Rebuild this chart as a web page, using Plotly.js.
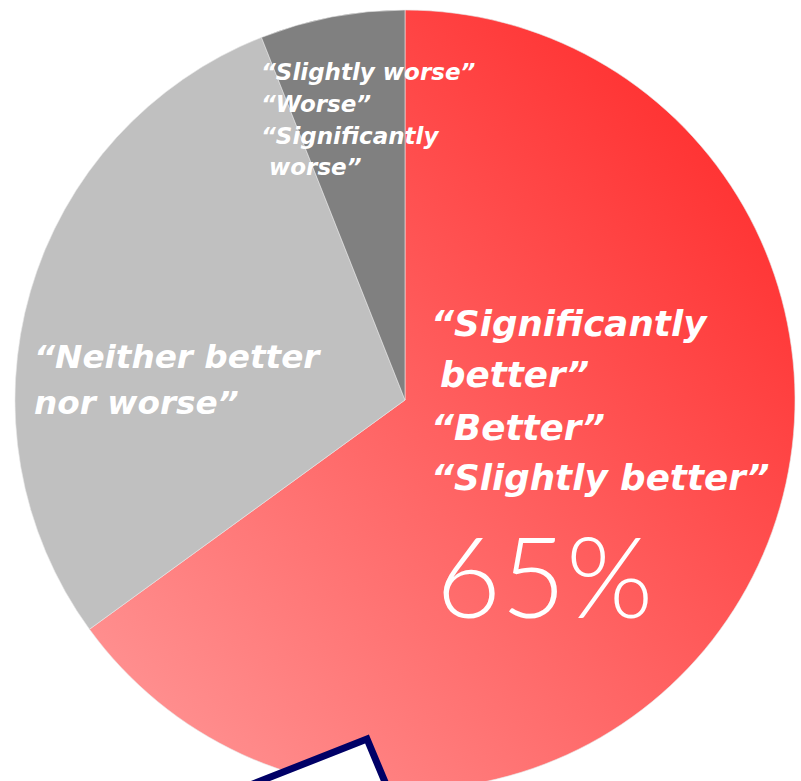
<!DOCTYPE html>
<html>
<head>
<meta charset="utf-8">
<script src="https://cdn.plot.ly/plotly-3.0.1.min.js"></script>
<style>
html,body{margin:0;padding:0;background:#fff;overflow:hidden;}
#chart{width:801px;height:820px;}
</style>
</head>
<body>
<div id="chart"></div>
<script>
// ---- data ----
var categories = ["Better (significantly / better / slightly)", "Neither better nor worse", "Worse (slightly / worse / significantly)"];
var shares = [65, 29, 6];
var sliceColors = ["#ff5a5a", "#c0c0c0", "#808080"];
var betterLines = ["\u201cSignificantly", "better\u201d", "\u201cBetter\u201d", "\u201cSlightly better\u201d"];
var neitherLines = ["\u201cNeither better", "nor worse\u201d"];
var worseLines = ["\u201cSlightly worse\u201d", "\u201cWorse\u201d", "\u201cSignificantly", "worse\u201d"];
var bigLabel = shares[0] + "%";

var W = 801, H = 820;
function px(x){ return x / W; }
function py(y){ return 1 - y / H; }

var trace = {
  type: "pie",
  labels: categories,
  values: shares,
  sort: false,
  direction: "clockwise",
  rotation: 0,
  textinfo: "none",
  hoverinfo: "none",
  showlegend: false,
  marker: { colors: sliceColors, line: { color: "#e8e8e8", width: 0.6 } },
  domain: { x: [px(15), px(795)], y: [py(790), py(10)] }
};

var lblFont = function(size){
  return { family: "DejaVu Sans, Verdana, sans-serif", size: size, color: "#ffffff", weight: "bold", style: "italic" };
};

var annotations = [];
var redX = [429, 438, 429, 429], redY = [323, 375, 427, 478];
betterLines.forEach(function(t, i){
  annotations.push({ text: t, xref: "paper", yref: "paper", x: px(redX[i]), y: py(redY[i]),
    xanchor: "left", yanchor: "middle", showarrow: false, font: lblFont(35.7) });
});
var nX = [32, 32], nY = [357, 403];
neitherLines.forEach(function(t, i){
  annotations.push({ text: t, xref: "paper", yref: "paper", x: px(nX[i]), y: py(nY[i]),
    xanchor: "left", yanchor: "middle", showarrow: false, font: lblFont(32.7) });
});
var wX = [259, 259, 259, 267], wY = [72, 104, 136, 167];
worseLines.forEach(function(t, i){
  annotations.push({ text: t, xref: "paper", yref: "paper", x: px(wX[i]), y: py(wY[i]),
    xanchor: "left", yanchor: "middle", showarrow: false, font: lblFont(23) });
});
annotations.push({ text: bigLabel, xref: "paper", yref: "paper", x: px(434), y: py(574),
  xanchor: "left", yanchor: "middle", showarrow: false,
  font: { family: "Lato, Roboto, sans-serif", size: 112, color: "#ffffff", weight: 300 } });

// navy callout box partially visible at bottom
var C = [367, 739];
var A = [C[0] - 218, C[1] + 86];
var B = [C[0] + 54, C[1] + 129];
var D = [A[0] + B[0] - C[0], A[1] + B[1] - C[1]];
var boxPath = "M" + px(A[0]) + "," + py(A[1]) + " L" + px(C[0]) + "," + py(C[1]) +
  " L" + px(B[0]) + "," + py(B[1]) + " L" + px(D[0]) + "," + py(D[1]) + " Z";

var layout = {
  width: W, height: H,
  margin: { l: 0, r: 0, t: 0, b: 0 },
  paper_bgcolor: "#ffffff",
  plot_bgcolor: "#ffffff",
  annotations: annotations,
  shapes: [{ type: "path", xref: "paper", yref: "paper", path: boxPath,
    line: { color: "#000066", width: 7 }, fillcolor: "#ffffff", layer: "above" }]
};

function applyGradient(){
  var svg = document.querySelector("#chart .main-svg");
  if (!svg) return;
  var ns = "http://www.w3.org/2000/svg";
  var defs = svg.querySelector("defs");
  if (!defs) { defs = document.createElementNS(ns, "defs"); svg.insertBefore(defs, svg.firstChild); }
  if (!document.getElementById("redgrad")) {
    var g = document.createElementNS(ns, "linearGradient");
    g.setAttribute("id", "redgrad");
    g.setAttribute("x1", "1"); g.setAttribute("y1", "0");
    g.setAttribute("x2", "0"); g.setAttribute("y2", "1");
    var stops = [["0", "#ff2222"], ["1", "#ff9a9a"]];
    stops.forEach(function(s){
      var st = document.createElementNS(ns, "stop");
      st.setAttribute("offset", s[0]); st.setAttribute("stop-color", s[1]);
      g.appendChild(st);
    });
    defs.appendChild(g);
  }
  var slices = document.querySelectorAll("#chart .slice path.surface");
  if (slices.length) slices[0].style.fill = "url(#redgrad)";
}

Plotly.newPlot("chart", [trace], layout, { staticPlot: true, displayModeBar: false }).then(applyGradient);
</script>
</body>
</html>
